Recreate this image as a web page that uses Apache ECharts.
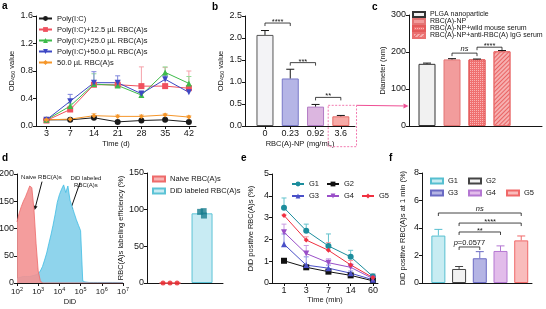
<!DOCTYPE html>
<html>
<head>
<meta charset="utf-8">
<script src="https://cdn.jsdelivr.net/npm/echarts@6/dist/echarts.min.js"></script>
<style>
  html, body { margin: 0; padding: 0; background: #fff; }
  #chart { width: 546px; height: 309px; }
</style>
</head>
<body>
<div id="chart"></div>
<script>
const FONT = '"Liberation Sans", Arial, Helvetica, sans-serif';

// ---- panel a: OD450 over time ----
const aDays = ['3', '7', '14', '21', '28', '35', '42'];
const aPolyIC = [0.09, 0.09, 0.12, 0.06, 0.08, 0.09, 0.06];
const aPolyICErr = [0.01, 0.01, 0.02, 0.01, 0.01, 0.01, 0.01];
const aPlus125 = [0.08, 0.24, 0.60, 0.60, 0.58, 0.58, 0.55];
const aPlus125Err = [0.01, 0.05, 0.02, 0.06, 0.28, 0.27, 0.25];
const aPlus250 = [0.09, 0.29, 0.61, 0.59, 0.45, 0.78, 0.62];
const aPlus250Err = [0.01, 0.04, 0.15, 0.05, 0.03, 0.08, 0.10];
const aPlus500 = [0.09, 0.36, 0.63, 0.63, 0.47, 0.68, 0.49];
const aPlus500Err = [0.01, 0.10, 0.16, 0.10, 0.04, 0.06, 0.08];
const aRbcOnly = [0.09, 0.10, 0.15, 0.14, 0.14, 0.16, 0.13];
const aRbcOnlyErr = [0.01, 0.01, 0.03, 0.02, 0.02, 0.02, 0.02];

// ---- panel b: OD450 vs RBC(A)-NP dose ----
const bDoses = ['0', '0.23', '0.92', '3.6'];
const bMean = [2.07, 1.08, 0.44, 0.22];
const bErr = [0.10, 0.21, 0.05, 0.02];

// ---- panel c: particle diameter ----
const cGroups = ['PLGA nanoparticle', 'RBC(A)-NP', 'RBC(A)-NP+wild mouse serum', 'RBC(A)-NP+anti-RBC(A) IgG serum'];
const cMean = [168, 180, 180, 202];
const cErr = [2, 2, 1, 2];

// ---- panel d: flow cytometry histogram (x = log10 DiD) ----
const dLogDiD = [2.0, 2.1, 2.2, 2.3, 2.4, 2.5, 2.6, 2.7, 2.8, 2.9,
                 3.0, 3.1, 3.2, 3.3, 3.4, 3.5, 3.6, 3.7, 3.8, 3.9,
                 4.0, 4.1, 4.2, 4.3, 4.4, 4.5, 4.6, 4.7, 4.8, 4.9,
                 5.0, 5.1, 5.2, 5.4, 5.6, 5.8, 6.0, 6.5, 7.0];
const dNaive = [112, 128, 140, 150, 158, 168, 178, 175, 135, 72,
                22, 4, 0, 0, 0, 0, 0, 0, 0, 0,
                0, 0, 0, 0, 0, 0, 0, 0, 0, 0,
                0, 0, 0, 0, 0, 0, 0, 0, 0];
const dLabeled = [8, 10, 11, 12, 12, 12, 12, 13, 14, 15,
                  17, 22, 30, 42, 55, 72, 88, 106, 126, 148,
                  162, 172, 180, 166, 178, 152, 140, 128, 116, 106,
                  96, 4, 2, 1, 1, 1, 1, 1, 1];
// ---- panel d: labeling efficiency ----
const dEffGroups = ['Naive RBC(A)s', 'DiD labeled RBC(A)s'];
const dEffMean = [0, 95];
const dNaiveDotsX = [-0.22, 0, 0.22];
const dNaiveDots = [0, 0, 0];
const dLabeledDotsX = [0.94, 1.05, 1.06];
const dLabeledDots = [97, 98, 92];

// ---- panel e: DiD positive RBC(A)s over time ----
const eTimes = ['1', '3', '7', '14', '60'];
const eG1 = [3.45, 2.40, 1.70, 1.20, 0.30];
const eG1Err = [0.45, 0.30, 0.55, 0.30, 0.12];
const eG2 = [1.02, 0.72, 0.52, 0.35, 0.10];
const eG2Err = [0.10, 0.06, 0.06, 0.05, 0.03];
const eG3 = [1.78, 0.82, 0.68, 0.45, 0.15];
const eG3Err = [0.47, 0.38, 0.14, 0.10, 0.05];
const eG4 = [2.33, 1.35, 0.93, 0.72, 0.20];
const eG4Err = [0.37, 0.37, 0.18, 0.16, 0.08];
const eG5 = [3.10, 1.97, 1.50, 0.83, 0.25];
const eG5Err = [0.05, 0.15, 0.35, 0.20, 0.15];

// ---- panel f: DiD positive at 1 min ----
const fGroups = ['G1', 'G2', 'G3', 'G4', 'G5'];
const fMean = [3.45, 1.02, 1.80, 2.33, 3.10];
const fErr = [0.45, 0.18, 0.48, 0.37, 0.32];

// significance brackets: from, to, height, label
const bSigFrom = [0, 1, 2], bSigTo = [1, 2, 3], bSigY = [2.34, 1.44, 0.65], bSigText = ['****', '***', '**'];
const cSigFrom = [1, 2], cSigTo = [2, 3], cSigY = [197, 213], cSigText = ['{i|ns}', '****'];
const fSigFrom = [0, 1, 1, 1], fSigTo = [4, 4, 3, 2], fSigY = [5.09, 4.36, 3.71, 2.62],
      fSigText = ['{i|ns}', '****', '**', '{i|p}=0.0577'];

const ink = '#151515';

function axisBase(extra) {
  return Object.assign({
    axisLine: { show: true, onZero: false, lineStyle: { color: ink, width: 1 } },
    axisTick: { show: true, length: 3, lineStyle: { color: ink, width: 1 } },
    axisLabel: { fontSize: 9, color: ink, margin: 3, fontFamily: FONT },
    splitLine: { show: false },
    nameTextStyle: { fontSize: 7.5, color: ink, fontFamily: FONT },
    nameLocation: 'middle'
  }, extra);
}

function catX(grid, cats, min, max, name, gap) {
  const idx = cats.map((c, i) => i);
  const ax = axisBase({ type: 'value', gridIndex: grid, min: min, max: max, name: name || '', nameGap: gap || 12 });
  if (cats.length) {
    ax.axisTick = Object.assign({}, ax.axisTick, { customValues: idx });
    ax.axisLabel = Object.assign({}, ax.axisLabel, { customValues: idx, formatter: v => cats[Math.round(v)] });
  } else {
    ax.axisTick = { show: false };
    ax.axisLabel = { show: false };
  }
  return ax;
}

function valY(grid, max, interval, name, gap, digits) {
  return axisBase({
    type: 'value', gridIndex: grid, min: 0, max: max, interval: interval,
    name: name, nameGap: gap, nameRotate: 90,
    axisLabel: { fontSize: 9, color: ink, margin: 3, fontFamily: FONT,
                 formatter: v => v.toFixed(digits || 0) },
    nameTextStyle: { fontSize: 7.5, color: ink, fontFamily: FONT,
                     rich: { s: { fontSize: 5.5, fontFamily: FONT, color: ink, padding: [4, 0, 0, 0] } } }
  });
}

function errSeries(grid, xs, means, errs, color, cap, z) {
  return {
    type: 'custom', xAxisIndex: grid, yAxisIndex: grid, z: z || 1, silent: true, clip: false,
    encode: { x: 0, y: 1 },
    data: xs.map((x, i) => [x, means[i], errs[i]]),
    renderItem: (p, api) => {
      const a = api.coord([api.value(0), api.value(1)]);
      const b = api.coord([api.value(0), api.value(1) + api.value(2)]);
      return { type: 'group', children: [
        { type: 'line', shape: { x1: a[0], y1: a[1], x2: b[0], y2: b[1] }, style: { stroke: color, lineWidth: 1 } },
        { type: 'line', shape: { x1: b[0] - cap, y1: b[1], x2: b[0] + cap, y2: b[1] }, style: { stroke: color, lineWidth: 1 } }
      ] };
    }
  };
}

function sigSeries(grid, from, to, ys, texts) {
  return {
    type: 'custom', xAxisIndex: grid, yAxisIndex: grid, z: 5, silent: true, clip: false,
    encode: { x: 0, y: 2 },
    data: from.map((f, i) => [f, to[i], ys[i]]),
    renderItem: (p, api) => {
      const a = api.coord([api.value(0), api.value(2)]);
      const b = api.coord([api.value(1), api.value(2)]);
      return { type: 'group', children: [
        { type: 'polyline', shape: { points: [[a[0], a[1] + 3], [a[0], a[1]], [b[0], b[1]], [b[0], b[1] + 3]] },
          style: { stroke: ink, fill: null, lineWidth: 0.8 } },
        { type: 'text', style: { text: texts[p.dataIndex], x: (a[0] + b[0]) / 2, y: a[1] + (texts[p.dataIndex].indexOf('*') === 0 ? 3 : -0.5),
          align: 'center', verticalAlign: 'bottom', fontSize: 7.5, fontFamily: FONT, fill: ink,
          rich: { i: { fontStyle: 'italic', fontSize: 7.5, fontFamily: FONT, fill: ink } } } }
      ] };
    }
  };
}

function lineSeries(grid, name, xs, ys, color, symbol, rotate, size) {
  return {
    name: name, type: 'line', xAxisIndex: grid, yAxisIndex: grid, z: 3,
    data: xs.map((x, i) => [x, ys[i]]),
    symbol: symbol, symbolSize: size || 6, symbolRotate: rotate || 0,
    itemStyle: { color: color }, lineStyle: { color: color, width: 1 }
  };
}

function barSeries(grid, name, x, y, fill, stroke, width, decal) {
  return {
    name: name, type: 'bar', xAxisIndex: grid, yAxisIndex: grid, barWidth: width, barGap: '-100%', z: 2,
    data: [[x, y]],
    itemStyle: { color: fill, borderColor: stroke, borderWidth: 1, decal: decal }
  };
}

const aIdx = aDays.map((d, i) => i);
const eIdx = eTimes.map((d, i) => i);
const bIdx = bDoses.map((d, i) => i);

const aCols = ['#1a1a1a', '#f0505e', '#3dbb4a', '#3d48c4', '#f5962a'];
const aErrCols = ['#777777', '#f5a3ab', '#92dc98', '#7f86dc', '#f8c080'];
const eCols = ['#1c8d9d', '#111111', '#4a50c8', '#9a4fc8', '#f03040'];
const eErrCols = ['#63c2cd', '#777777', '#8a8ee0', '#c99be2', '#f59aa0'];

const bFill = ['#f3f3f6', '#b5b5e6', '#dcb6e0', '#f7aaa6'];
const bStroke = ['#555555', '#7878c8', '#b27ac4', '#e56a66'];
const fFill = ['#c8ecf2', '#f2f2f2', '#b4b4e4', '#e2bcea', '#f9bcbc'];
const fStroke = ['#56bfd0', '#444444', '#6a6ac4', '#b477d2', '#f06868'];

const series = [
  // a
  errSeries(0, aIdx, aPolyIC, aPolyICErr, aErrCols[0], 2.5),
  errSeries(0, aIdx, aRbcOnly, aRbcOnlyErr, aErrCols[4], 2.5),
  errSeries(0, aIdx, aPlus125, aPlus125Err, aErrCols[1], 2.5),
  errSeries(0, aIdx, aPlus250, aPlus250Err, aErrCols[2], 2.5),
  errSeries(0, aIdx, aPlus500, aPlus500Err, aErrCols[3], 2.5),
  lineSeries(0, 'Poly(I:C)', aIdx, aPolyIC, aCols[0], 'circle'),
  lineSeries(0, 'Poly(I:C)+12.5 µL RBC(A)s', aIdx, aPlus125, aCols[1], 'rect'),
  lineSeries(0, 'Poly(I:C)+25.0 µL RBC(A)s', aIdx, aPlus250, aCols[2], 'triangle'),
  lineSeries(0, 'Poly(I:C)+50.0 µL RBC(A)s', aIdx, aPlus500, aCols[3], 'triangle', 180),
  lineSeries(0, '50.0 µL RBC(A)s', aIdx, aRbcOnly, aCols[4], 'diamond', 0, 5),
  // b
  {
    type: 'bar', xAxisIndex: 1, yAxisIndex: 1, barWidth: 17, z: 2,
    data: bMean.map((v, i) => ({ value: [i, v], itemStyle: { color: bFill[i], borderColor: bStroke[i], borderWidth: 1 } }))
  },
  errSeries(1, bIdx, bMean, bErr, ink, 4, 3),
  sigSeries(1, bSigFrom, bSigTo, bSigY, bSigText),
  // c
  barSeries(2, cGroups[0], 0, cMean[0], '#f1f1f1', '#333333', 17),
  barSeries(2, cGroups[1], 1, cMean[1], '#f29c9c', '#e47474', 17),
  barSeries(2, cGroups[2], 2, cMean[2], '#ef7070', '#e45a5a', 17,
    { symbol: 'rect', symbolSize: 1, dashArrayX: [1, 1], dashArrayY: [1, 1], color: 'rgba(255,210,210,0.7)' }),
  barSeries(2, cGroups[3], 3, cMean[3], '#f6b0b0', '#ea7070', 17,
    { symbol: 'rect', dashArrayX: [1, 0], dashArrayY: [1, 2], rotation: -Math.PI / 4, color: 'rgba(230,80,80,0.8)' }),
  errSeries(2, [0, 1, 2, 3], cMean, cErr, ink, 4, 3),
  sigSeries(2, cSigFrom, cSigTo, cSigY, cSigText),
  // d histogram
  {
    type: 'line', xAxisIndex: 3, yAxisIndex: 3, showSymbol: false, symbol: 'none', z: 2,
    data: dLogDiD.map((x, i) => [x, dLabeled[i]]),
    lineStyle: { color: '#3fbde3', width: 0.8 }, areaStyle: { color: '#8fd4ec', opacity: 1 }
  },
  {
    type: 'line', xAxisIndex: 3, yAxisIndex: 3, showSymbol: false, symbol: 'none', z: 3,
    data: dLogDiD.map((x, i) => [x, dNaive[i]]),
    lineStyle: { color: '#ee6a6a', width: 0.8 }, areaStyle: { color: '#f39292', opacity: 0.9 }
  },
  // d labeling efficiency
  barSeries(4, dEffGroups[0], 0, dEffMean[0], '#f7b4b4', '#ee6b6b', 21),
  barSeries(4, dEffGroups[1], 1, dEffMean[1], '#c8ebf3', '#5cc3d6', 21),
  {
    type: 'scatter', xAxisIndex: 4, yAxisIndex: 4, symbol: 'circle', symbolSize: 5, z: 4,
    data: dNaiveDotsX.map((x, i) => [x, dNaiveDots[i]]), itemStyle: { color: '#e8242c' }
  },
  {
    type: 'scatter', xAxisIndex: 4, yAxisIndex: 4, symbol: 'rect', symbolSize: 6, z: 4,
    data: dLabeledDotsX.map((x, i) => [x, dLabeledDots[i]]), itemStyle: { color: '#187d8e' }
  },
  // e
  errSeries(5, eIdx, eG1, eG1Err, eErrCols[0], 2.5),
  errSeries(5, eIdx, eG2, eG2Err, eErrCols[1], 2.5),
  errSeries(5, eIdx, eG3, eG3Err, eErrCols[2], 2.5),
  errSeries(5, eIdx, eG4, eG4Err, eErrCols[3], 2.5),
  errSeries(5, eIdx, eG5, eG5Err, eErrCols[4], 2.5),
  lineSeries(5, 'G1', eIdx, eG1, eCols[0], 'circle'),
  lineSeries(5, 'G2', eIdx, eG2, eCols[1], 'rect'),
  lineSeries(5, 'G3', eIdx, eG3, eCols[2], 'triangle'),
  lineSeries(5, 'G4', eIdx, eG4, eCols[3], 'triangle', 180),
  lineSeries(5, 'G5', eIdx, eG5, eCols[4], 'diamond', 0, 5),
  // f
  ...fGroups.map((g, i) => barSeries(6, 'f:' + g, i, fMean[i], fFill[i], fStroke[i], 14)),
  ...fGroups.map((g, i) => errSeries(6, [i], [fMean[i]], [fErr[i]], fStroke[i], 4, 3)),
  sigSeries(6, fSigFrom, fSigTo, fSigY, fSigText)
];

const legendText = { fontSize: 7.5, color: ink, fontFamily: FONT };

const option = {
  animation: false,
  backgroundColor: '#ffffff',
  textStyle: { fontFamily: FONT },
  grid: [
    { left: 36, top: 16, width: 160, height: 110, outerBoundsMode: 'none' },
    { left: 245, top: 16, width: 110, height: 110, outerBoundsMode: 'none' },
    { left: 409, top: 15, width: 133, height: 111, outerBoundsMode: 'none' },
    { left: 17, top: 174, width: 106, height: 109, outerBoundsMode: 'none' },
    { left: 147, top: 173, width: 76, height: 110, outerBoundsMode: 'none' },
    { left: 272, top: 174, width: 106, height: 109, outerBoundsMode: 'none' },
    { left: 422, top: 173, width: 110, height: 110, outerBoundsMode: 'none' }
  ],
  xAxis: [
    catX(0, aDays, -0.44, 6.3, 'Time (d)', 14),
    catX(1, bDoses, -0.79, 3.56, 'RBC(A)-NP (mg/mL)', 14),
    catX(2, [], -0.72, 4.6),
    axisBase({
      type: 'value', gridIndex: 3, min: 2, max: 7, name: 'DiD', nameGap: 15,
      axisTick: { show: true, length: 3, lineStyle: { color: ink }, customValues: [2, 3, 4, 5, 6, 7] },
      axisLabel: { customValues: [2, 3, 4, 5, 6, 7], margin: 3, color: ink, fontFamily: FONT,
        formatter: v => '{b|10}{s|' + v + '}',
        rich: { b: { fontSize: 8, fontFamily: FONT, color: ink },
                s: { fontSize: 5.5, fontFamily: FONT, color: ink, padding: [0, 0, 5, 0] } } }
    }),
    catX(4, [], -0.72, 1.655),
    catX(5, eTimes, -0.54, 4.23, 'Time (min)', 13),
    catX(6, [], -0.79, 4.52)
  ],
  yAxis: [
    valY(0, 1.6, 0.4, 'OD{s|450} value', 18, 1),
    valY(1, 2.5, 0.5, 'OD{s|450} value', 13, 1),
    valY(2, 300, 100, 'Diameter (nm)', 19, 0),
    valY(3, 200, 50, 'Counts', 15, 0),
    valY(4, 150, 50, 'RBC(A)s labeling efficiency (%)', 11, 0),
    valY(5, 5, 1, 'DiD positive RBC(A)s (%)', 17, 0),
    valY(6, 8, 2, 'DiD positive RBC(A)s at 1 min (%)', 15, 0)
  ],
  legend: [
    { data: ['Poly(I:C)', 'Poly(I:C)+12.5 µL RBC(A)s', 'Poly(I:C)+25.0 µL RBC(A)s', 'Poly(I:C)+50.0 µL RBC(A)s', '50.0 µL RBC(A)s'],
      orient: 'vertical', left: 38, top: 14, itemWidth: 13, itemHeight: 6, itemGap: 2,
      selectedMode: false, textStyle: Object.assign({ lineHeight: 9 }, legendText), padding: 0 },
    { data: cGroups, orient: 'vertical', left: 412, top: 11, itemWidth: 12, itemHeight: 5, itemGap: 0,
      icon: 'rect', selectedMode: false, textStyle: Object.assign({ lineHeight: 7 }, legendText, { fontSize: 7 }), padding: 0 },
    { data: dEffGroups, orient: 'vertical', left: 152, top: 175, itemWidth: 12, itemHeight: 5, itemGap: 4,
      icon: 'rect', selectedMode: false, textStyle: legendText, padding: 0 },
    { data: ['G1', 'G2'], left: 291, top: 180, itemWidth: 12, itemHeight: 6, itemGap: 7,
      selectedMode: false, textStyle: legendText, padding: 0 },
    { data: ['G3', 'G4', 'G5'], left: 291, top: 192, itemWidth: 12, itemHeight: 6, itemGap: 7,
      selectedMode: false, textStyle: legendText, padding: 0 },
    { data: ['f:G1', 'f:G2'], left: 430, top: 177, itemWidth: 12, itemHeight: 5, itemGap: 10,
      icon: 'rect', selectedMode: false, textStyle: legendText, padding: 0, formatter: n => n.slice(2) },
    { data: ['f:G3', 'f:G4', 'f:G5'], left: 430, top: 189, itemWidth: 12, itemHeight: 5, itemGap: 10,
      icon: 'rect', selectedMode: false, textStyle: legendText, padding: 0, formatter: n => n.slice(2) }
  ],
  series: series
};

const chart = echarts.init(document.getElementById('chart'), null, { renderer: 'canvas' });
chart.setOption(option);

// annotations placed from data coordinates
function px(grid, pt) { return chart.convertToPixel({ gridIndex: grid }, pt); }
function arrow(from, to, color, head) {
  const dx = to[0] - from[0], dy = to[1] - from[1];
  const len = Math.sqrt(dx * dx + dy * dy), ux = dx / len, uy = dy / len;
  const bx = to[0] - ux * head, by = to[1] - uy * head;
  return [
    { type: 'line', shape: { x1: from[0], y1: from[1], x2: bx, y2: by }, style: { stroke: color, lineWidth: 1 } },
    { type: 'polygon', shape: { points: [to, [bx - uy * head * 0.5, by + ux * head * 0.5], [bx + uy * head * 0.5, by - ux * head * 0.5]] },
      style: { fill: color } }
  ];
}
const pink = '#ef4f95';
const boxA = px(1, [2.5, 0.47]), boxB = px(1, [3.62, -0.47]);
const arrowEnd = px(2, [-0.74, 54]);
const letters = [['a', 2, 1], ['b', 212, 2], ['c', 372, 2], ['d', 2, 153], ['e', 241, 153], ['f', 389, 153]];

const graphic = [
  { type: 'rect', shape: { x: boxA[0], y: boxA[1], width: boxB[0] - boxA[0], height: boxB[1] - boxA[1] },
    style: { fill: null, stroke: '#f27bb0', lineWidth: 1, lineDash: [2, 1.5] }, z: 10 },
  ...arrow([boxB[0], boxA[1]], arrowEnd, pink, 5),
  ...arrow(px(3, [3.18, 186]), px(3, [2.83, 134]), '#111', 4),
  ...arrow(px(3, [4.97, 184]), px(3, [4.5, 132]), '#111', 4),
  { type: 'text', style: { text: 'Naive RBC(A)s', x: px(3, [3.15, 0])[0], y: px(3, [0, 199])[1], align: 'center',
      fontSize: 6, fontFamily: FONT, fill: ink }, z: 10 },
  { type: 'text', style: { text: 'DiD labeled\nRBC(A)s', x: px(3, [5.25, 0])[0], y: px(3, [0, 199])[1], align: 'center',
      fontSize: 6, lineHeight: 7, fontFamily: FONT, fill: ink }, z: 10 },
  ...letters.map(l => ({ type: 'text', style: { text: l[0], x: l[1], y: l[2], fontSize: 10, fontWeight: 'bold',
      fontFamily: FONT, fill: '#000' }, z: 10 }))
];
chart.setOption({ graphic: graphic });
</script>
</body>
</html>
